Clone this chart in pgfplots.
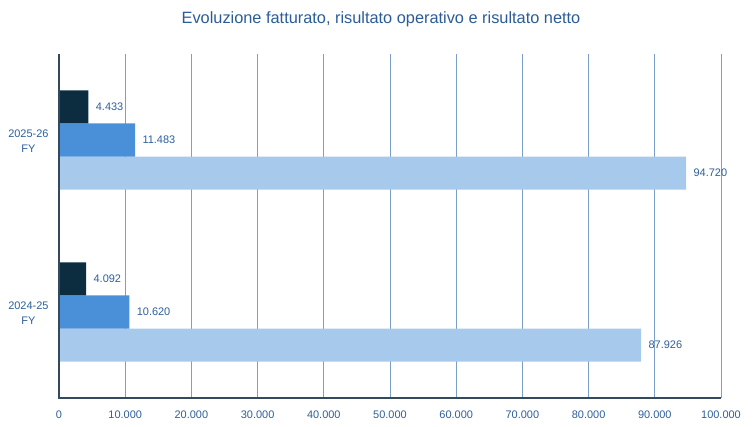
\documentclass[border=0pt]{standalone}
\usepackage{pgfplots}
\pgfplotsset{compat=1.18}
\usepackage{fontspec}
\setmainfont{Liberation Sans}
\definecolor{txt}{HTML}{2E5F9A}
\definecolor{titlec}{HTML}{2B5C97}
\definecolor{gridc}{HTML}{7A9FC8}
\definecolor{axc}{HTML}{34495E}
\definecolor{cdark}{HTML}{0C2D40}
\definecolor{cmid}{HTML}{4A90D9}
\definecolor{clight}{HTML}{A7CAEC}
\begin{document}
\begin{tikzpicture}[x=1bp,y=1bp]
\useasboundingbox (0,0) rectangle (753,426);
\node[font=\fontsize{16.4}{19}\selectfont, text=titlec] at (381,407) {Evoluzione fatturato, risultato operativo e risultato netto};
\begin{axis}[
  at={(59bp,28bp)}, anchor=south west,
  scale only axis, width=662bp, height=344bp,
  xmin=0, xmax=100000, ymin=-0.5, ymax=1.5,
  xtick={0,10000,...,100000},
  ytick={0,1},
  yticklabels={{2024-25\\FY},{2025-26\\FY}},
  y tick label style={align=center, font=\fontsize{11}{15}\selectfont, text=txt, xshift=-7bp, yshift=-1.5bp},
  x tick label style={font=\fontsize{11}{13}\selectfont, text=txt, yshift=-9bp},
  /pgf/number format/assume math mode=true,
  /pgf/number format/.cd, fixed, precision=0, 1000 sep={.}, /pgfplots/.cd,
  scaled x ticks=false,
  xmajorgrids, major grid style={gridc, line width=0.8bp},
  axis line style={draw=none},
  major tick length=0pt,
  xbar, bar width=0.192,
  nodes near coords,
  nodes near coords style={font=\fontsize{11}{13}\selectfont, text=txt, anchor=west, xshift=4bp,
    /pgf/number format/.cd, fixed, precision=0, 1000 sep={.}, assume math mode=true},
  clip=false,
]
\addplot[fill=clight, draw=none, bar shift=-0.192] coordinates {(87926,0) (94720,1)};
\addplot[fill=cmid, draw=none, bar shift=0] coordinates {(10620,0) (11483,1)};
\addplot[fill=cdark, draw=none, bar shift=0.192] coordinates {(4092,0) (4433,1)};
\draw[axc, line width=1.2bp] (axis cs:0,1.5) -- (axis cs:0,-0.5) -- (axis cs:100000,-0.5);
\end{axis}
\end{tikzpicture}
\end{document}
